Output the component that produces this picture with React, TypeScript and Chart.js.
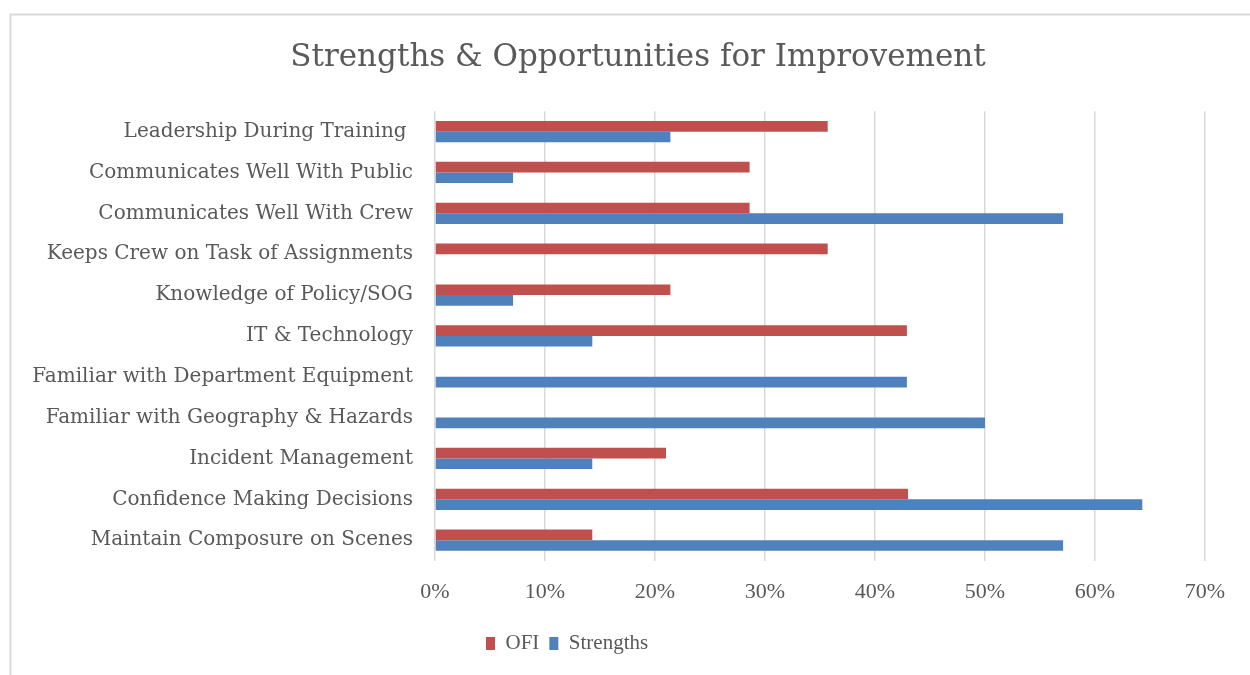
import React, { useEffect, useRef } from "react";
import { Chart, registerables } from "chart.js";

Chart.register(...registerables);

const categories = [
  "Leadership During Training ",
  "Communicates Well With Public",
  "Communicates Well With Crew",
  "Keeps Crew on Task of Assignments",
  "Knowledge of Policy/SOG",
  "IT & Technology",
  "Familiar with Department Equipment",
  "Familiar with Geography & Hazards",
  "Incident Management",
  "Confidence Making Decisions",
  "Maintain Composure on Scenes",
];
const ofiValues = [0.357, 0.286, 0.286, 0.357, 0.214, 0.429, 0, 0, 0.21, 0.43, 0.143];
const strengthsValues = [0.214, 0.071, 0.571, 0, 0.071, 0.143, 0.429, 0.5, 0.143, 0.643, 0.571];
const seriesNames = ["OFI", "Strengths"];
const chartTitle = "Strengths & Opportunities for Improvement";
const xMin = 0;
const xMax = 0.7;
const xStep = 0.1;

const TEXT = "#595959";
const GRID = "#d9d9d9";
const RED = "#C0504D";
const BLUE = "#4F81BD";
const LABEL_FONT = "'DejaVu Serif', serif";
const TICK_FONT = "'Liberation Serif', serif";

const framePlugin = {
  id: "frame",
  beforeDraw(chart: any) {
    const ctx = chart.ctx;
    ctx.save();
    ctx.strokeStyle = GRID;
    ctx.lineWidth = 2;
    ctx.beginPath();
    ctx.moveTo(10.5, chart.height);
    ctx.lineTo(10.5, 14.5);
    ctx.lineTo(chart.width, 14.5);
    ctx.stroke();
    ctx.restore();
  },
};

const shiftPlugin = {
  id: "shiftBoxes",
  afterLayout(chart: any) {
    const l = chart.legend;
    if (l) {
      const w = l.right - l.left;
      l.left = 476;
      l.right = 476 + w;
    }
    const t = chart.titleBlock;
    if (t) {
      const center = 638;
      const w = t.right - t.left;
      t.left = center - w / 2;
      t.right = center + w / 2;
    }
  },
};

export default function App() {
  const ref = useRef<HTMLCanvasElement | null>(null);
  useEffect(() => {
    if (!ref.current) return;
    const chart = new Chart(ref.current, {
      type: "bar",
      data: {
        labels: categories,
        datasets: [
          {
            label: seriesNames[0],
            data: ofiValues,
            backgroundColor: RED,
            categoryPercentage: 0.52,
            barPercentage: 1,
          },
          {
            label: seriesNames[1],
            data: strengthsValues,
            backgroundColor: BLUE,
            categoryPercentage: 0.52,
            barPercentage: 1,
          },
        ],
      },
      options: {
        indexAxis: "y",
        animation: false,
        responsive: false,
        devicePixelRatio: 1,
        layout: { padding: { top: 0, right: 45, bottom: 11, left: 0 } },
        plugins: {
          title: {
            display: true,
            text: chartTitle,
            color: TEXT,
            font: { family: LABEL_FONT, size: 31, weight: "normal", lineHeight: 1.2 },
            padding: { top: 39, bottom: 35 },
          },
          legend: {
            display: true,
            position: "bottom",
            align: "start",
            labels: {
              color: TEXT,
              boxWidth: 9,
              boxHeight: 13,
              padding: 10,
              font: { family: TICK_FONT, size: 21 },
            },
          },
          tooltip: { enabled: false },
        },
        scales: {
          x: {
            type: "linear",
            min: xMin,
            max: xMax,
            ticks: {
              stepSize: xStep,
              color: TEXT,
              padding: 18,
              font: { family: TICK_FONT, size: 22 },
              callback: (v: any) => Math.round(Number(v) * 100) + "%",
            },
            grid: { color: GRID, lineWidth: 1.5, drawTicks: false },
            border: { display: false },
          },
          y: {
            type: "category",
            ticks: {
              color: TEXT,
              padding: 22,
              font: { family: LABEL_FONT, size: 20 },
              autoSkip: false,
            },
            grid: { display: false, drawTicks: false },
            border: { display: false },
            afterFit(scale: any) {
              scale.width = 435;
            },
          },
        },
      },
      plugins: [framePlugin, shiftPlugin],
    });
    return () => chart.destroy();
  }, []);
  return (
    <div style={{ position: "absolute", left: 0, top: 0, width: 1250, height: 675, overflow: "hidden", background: "#fff" }}>
      <canvas ref={ref} width={1250} height={675} style={{ display: "block" }} />
    </div>
  );
}
